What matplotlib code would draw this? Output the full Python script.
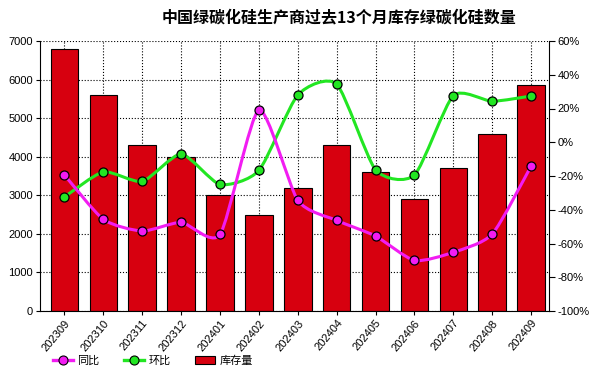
import numpy as np
import matplotlib
matplotlib.use("Agg")
import matplotlib.pyplot as plt
from matplotlib.path import Path
from matplotlib.patches import PathPatch, Patch
from matplotlib.lines import Line2D

plt.rcParams['font.family'] = ['Liberation Sans', 'Noto Sans CJK SC', 'DejaVu Sans']

months = ["202309", "202310", "202311", "202312", "202401", "202402", "202403",
          "202404", "202405", "202406", "202407", "202408", "202409"]
stock = [6800, 5600, 4300, 4000, 3000, 2500, 3200, 4300, 3600, 2900, 3700, 4600, 5860]
yoy = [-19.4, -45.7, -52.6, -47.5, -54.6, 19.1, -34.4, -46.3, -55.6, -70.0, -65.2, -54.4, -14.1]
mom = [-32.4, -17.6, -23.2, -7.0, -25.0, -16.7, 28.0, 34.4, -16.3, -19.4, 27.6, 24.3, 27.4]

RED = '#d7000f'
MAGENTA = '#f21cf2'
GREEN = '#22e622'


def smooth_path(xs, ys, k=0.11):
    # cardinal spline segments as cubic bezier, drawn by matplotlib
    pts = np.column_stack([xs, ys]).astype(float)
    n = len(pts)
    verts = [pts[0]]
    codes = [Path.MOVETO]
    for i in range(n - 1):
        p0 = pts[i - 1] if i > 0 else pts[i]
        p1 = pts[i]
        p2 = pts[i + 1]
        p3 = pts[i + 2] if i + 2 < n else pts[i + 1]
        c1 = p1 + (p2 - p0) * k
        c2 = p2 - (p3 - p1) * k
        verts += [c1, c2, p2]
        codes += [Path.CURVE4] * 3
    return Path(verts, codes)


fig = plt.figure(figsize=(6.08, 3.84), dpi=100)
ax = fig.add_axes([40 / 608, 1 - 311 / 384, 509 / 608, 270 / 384])
x = np.arange(len(months))

ax.bar(x, stock, width=0.71, color=RED, edgecolor='black', linewidth=0.8, zorder=2)
ax.set_xlim(-0.63, 12.46)
ax.set_ylim(0, 7000)
ax.set_yticks(range(0, 7001, 1000))
ax.set_xticks(x)
ax.set_xticklabels(months, rotation=50, ha='right', rotation_mode='anchor', fontsize=8)
ax.tick_params(axis='y', labelsize=8, length=3, pad=2)
ax.tick_params(axis='x', length=3, pad=2)
ax.grid(True, linestyle=':', color='black', linewidth=0.8, zorder=0)
ax.set_axisbelow(True)
for s in ['top', 'right']:
    ax.spines[s].set_visible(False)

ax2 = ax.twinx()
ax2.set_ylim(-100, 60)
ax2.set_yticks(range(-100, 61, 20))
ax2.set_yticklabels(["%d%%" % v for v in range(-100, 61, 20)])
ax2.tick_params(axis='y', labelsize=8, length=4, pad=2)
for s in ['top', 'left', 'bottom']:
    ax2.spines[s].set_visible(False)

for vals, col in [(mom, GREEN), (yoy, MAGENTA)]:
    ax2.add_patch(PathPatch(smooth_path(x, vals), facecolor='none', edgecolor=col,
                            linewidth=2.2, zorder=3))
    ax2.plot(x, vals, linestyle='none', marker='o', markersize=6.5, markerfacecolor=col,
             markeredgecolor='black', markeredgewidth=0.9, zorder=4)

fig.text(0.557, 0.955, "中国绿碳化硅生产商过去13个月库存绿碳化硅数量", ha='center', va='center',
         fontsize=11.5, fontweight='bold', family=['Noto Sans CJK SC', 'DejaVu Sans'])

handles = [
    Line2D([], [], color=MAGENTA, linewidth=2.4, marker='o', markersize=6.5,
           markerfacecolor=MAGENTA, markeredgecolor='black', markeredgewidth=0.8),
    Line2D([], [], color=GREEN, linewidth=2.4, marker='o', markersize=6.5,
           markerfacecolor=GREEN, markeredgecolor='black', markeredgewidth=0.8),
    Patch(facecolor=RED, edgecolor='black', linewidth=0.8),
]
fig.legend(handles, ["同比", "环比", "库存量"], loc='center left', bbox_to_anchor=(0.07, 0.06),
           ncol=3, frameon=False, handlelength=1.8, handletextpad=0.4,
           columnspacing=2.2, prop={'family': ['Noto Sans CJK SC', 'DejaVu Sans'], 'size': 8})

fig.savefig("out.png", dpi=100)
